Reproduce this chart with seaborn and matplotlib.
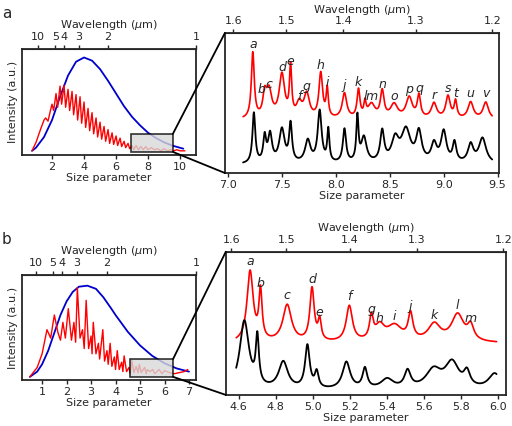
import numpy as np
import pandas as pd
import matplotlib
matplotlib.use("Agg")
import matplotlib.pyplot as plt
from matplotlib.patches import Rectangle, ConnectionPatch
import seaborn as sns

sns.set_style("ticks")
plt.rcParams['font.family'] = ['DejaVu Sans']

# ---------------- data ----------------
# panel a, overview
a_blue_x = [0.75,1,1.5,2,2.5,3,3.5,4,4.5,5,5.5,6,6.5,7,7.5,8,8.5,9,9.5,10.2]
a_blue_y = [0.04,0.07,0.17,0.33,0.55,0.75,0.88,0.92,0.89,0.81,0.70,0.58,0.46,0.36,0.28,0.21,0.16,0.12,0.09,0.06]
a_red_x = [0.75,1.0,1.3,1.5,1.6,1.75,1.9,2.0,2.1,2.25,2.35,2.5,2.6,2.75,2.85,3.0,3.1,3.25,3.35,3.5,3.6,3.75,3.85,4.0,
           4.1,4.25,4.35,4.5,4.6,4.75,4.85,5.0,5.1,5.25,5.35,5.5,5.6,5.75,5.85,6.0,6.1,6.25,6.35,6.5,6.6,6.75,6.85,7.0,
           7.1,7.25,7.4,7.55,7.7,7.85,8.0,8.2,8.4,8.6,8.8,9.0,9.2,9.4,9.6,9.8,10.0,10.3]
a_red_y = [0.04,0.12,0.25,0.33,0.35,0.32,0.42,0.48,0.42,0.58,0.45,0.65,0.48,0.66,0.45,0.62,0.42,0.60,0.38,0.57,0.33,0.55,0.30,0.50,
           0.26,0.44,0.23,0.40,0.20,0.35,0.17,0.31,0.15,0.27,0.13,0.24,0.11,0.21,0.10,0.18,0.09,0.16,0.08,0.13,0.07,0.11,0.06,0.09,
           0.05,0.09,0.05,0.08,0.05,0.08,0.05,0.07,0.05,0.06,0.04,0.06,0.04,0.05,0.04,0.05,0.04,0.04]
a_top_ticks = [1.1, 2.2, 2.75, 3.67, 5.5, 11.0]
a_top_labels = ["10", "5", "4", "3", "2", "1"]

# panel a, zoom: (label, position, peak value, width)
a_labels = list("abcdefghijklmnopqrstuv")
a_pk_x = [7.23,7.34,7.38,7.50,7.58,7.66,7.73,7.86,7.92,8.08,8.21,8.27,8.33,8.43,8.54,8.68,8.77,8.91,9.04,9.11,9.25,9.39]
a_pk_y = [0.85,0.53,0.57,0.69,0.73,0.48,0.55,0.70,0.58,0.56,0.58,0.48,0.48,0.57,0.48,0.53,0.54,0.49,0.54,0.50,0.50,0.50]
a_pk_w = [0.016,0.02,0.03,0.03,0.012,0.03,0.03,0.02,0.012,0.025,0.016,0.012,0.04,0.02,0.04,0.035,0.018,0.03,0.025,0.015,0.03,0.03]
a_blk_x = [7.24,7.34,7.39,7.50,7.58,7.74,7.85,7.93,8.08,8.20,8.26,8.43,8.55,8.65,8.77,8.91,9.00,9.10,9.25,9.36]
a_blk_y = [0.42,0.24,0.26,0.30,0.33,0.22,0.43,0.29,0.30,0.38,0.24,0.28,0.22,0.29,0.27,0.19,0.28,0.20,0.19,0.24]
a_blk_w = [0.016,0.016,0.022,0.03,0.016,0.03,0.022,0.012,0.018,0.012,0.03,0.022,0.04,0.05,0.03,0.03,0.03,0.02,0.03,0.04]
a_zoom_top_ticks = [7.05, 7.54, 8.07, 8.74, 9.45]
zoom_top_labels = ["1.6", "1.5", "1.4", "1.3", "1.2"]

# panel b, overview
b_blue_x = [0.5,0.8,1.0,1.25,1.5,1.75,2.0,2.25,2.5,2.85,3.2,3.5,3.8,4.0,4.5,5.0,5.5,6.0,6.5,7.0]
b_blue_y = [0.03,0.08,0.15,0.28,0.45,0.62,0.75,0.84,0.89,0.90,0.87,0.79,0.69,0.62,0.46,0.33,0.23,0.16,0.11,0.08]
b_red_x = [0.5,0.8,1.0,1.2,1.35,1.5,1.65,1.75,1.85,1.95,2.07,2.2,2.3,2.37,2.44,2.55,2.65,2.72,2.80,2.9,3.0,3.04,3.09,
           3.2,3.3,3.35,3.48,3.55,3.65,3.7,3.78,3.85,3.95,4.0,4.07,4.15,4.25,4.3,4.35,4.45,4.55,4.6,4.66,
           4.75,4.84,4.92,4.97,5.05,5.19,5.25,5.3,5.4,5.52,5.6,5.78,5.9,6.0,6.2,6.4,6.6,6.8,6.95]
b_red_y = [0.03,0.12,0.25,0.48,0.40,0.62,0.45,0.38,0.55,0.40,0.68,0.38,0.55,0.36,0.88,0.40,0.48,0.30,0.76,0.30,0.42,0.25,0.55,
           0.25,0.35,0.20,0.48,0.18,0.28,0.15,0.35,0.13,0.22,0.10,0.28,0.10,0.17,0.08,0.23,0.08,0.12,0.06,0.19,
           0.07,0.13,0.07,0.15,0.07,0.12,0.06,0.10,0.08,0.10,0.06,0.10,0.06,0.09,0.07,0.06,0.07,0.08,0.10]
b_top_ticks = [0.76, 1.45, 1.82, 2.43, 3.65, 7.29]
b_top_labels = ["10", "5", "4", "3", "2", "1"]

# panel b, zoom
b_labels = list("abcdefghijklm")
b_pk_x = [4.661,4.717,4.861,4.995,5.036,5.196,5.315,5.36,5.44,5.526,5.654,5.78,5.85]
b_pk_y = [0.855,0.70,0.62,0.73,0.50,0.61,0.52,0.46,0.47,0.54,0.48,0.55,0.46]
b_pk_w = [0.02,0.01,0.028,0.014,0.01,0.02,0.012,0.03,0.05,0.015,0.04,0.04,0.02]
b_blk_x = [4.63,4.70,4.84,4.97,5.02,5.18,5.28,5.40,5.51,5.65,5.75,5.83,5.98]
b_blk_y = [0.51,0.36,0.22,0.33,0.14,0.22,0.17,0.10,0.15,0.16,0.21,0.13,0.14]
b_blk_w = [0.03,0.01,0.03,0.015,0.012,0.025,0.015,0.04,0.02,0.05,0.045,0.02,0.04]
b_zoom_top_ticks = [4.559, 4.856, 5.198, 5.559, 6.027]

# ---------------- drawing ----------------
fig = plt.figure(figsize=(5.12, 4.26), dpi=100)
FS = 8

def spectrum(xs, px, py, pw, base):
    y = np.full_like(xs, base)
    for x0, h, w in zip(px, py, pw):
        y += (h - base) * w**2 / ((xs - x0)**2 + w**2)
    return y

def style(ax):
    for s in ax.spines.values():
        s.set_linewidth(1.3)
    ax.tick_params(labelsize=FS, width=1, length=3, direction="out", pad=2)

def overview(rect, bx, by, rx, ry, xlim, xticks, tt, tl, box):
    ax = fig.add_axes(rect)
    sns.lineplot(x=bx, y=by, ax=ax, color="#0000cc", lw=1.3, sort=False, estimator=None)
    sns.lineplot(x=rx, y=ry, ax=ax, color="red", lw=1.0, sort=False, estimator=None)
    ax.set_xlim(*xlim); ax.set_ylim(0, 1)
    ax.set_yticks([]); ax.set_xticks(xticks)
    ax.set_xlabel("Size parameter", fontsize=FS, labelpad=1)
    ax.set_ylabel("Intensity (a.u.)", fontsize=FS, labelpad=3)
    top = ax.secondary_xaxis("top")
    top.set_xticks(tt); top.set_xticklabels(tl)
    top.tick_params(labelsize=FS, width=1, length=3, pad=2)
    top.set_xlabel(r"Wavelength ($\mu$m)", fontsize=FS, labelpad=3)
    style(ax)
    ax.add_patch(Rectangle((box[0], 0.03), box[1]-box[0], 0.17, facecolor="#d9d9d9",
                           edgecolor="black", lw=1.2, alpha=0.8, zorder=3))
    return ax

def zoom(rect, xlim, xticks, xtl, rx, px, py, pw, rbase, bpx, bpy, bpw, bbase, labels, tt, lbl_off):
    ax = fig.add_axes(rect)
    xs = np.linspace(rx[0], rx[1], 1200)
    yr = spectrum(xs, px, py, pw, rbase)
    yb = spectrum(xs, bpx, bpy, bpw, bbase)
    sns.lineplot(x=xs, y=yr, ax=ax, color="red", lw=1.2, estimator=None)
    sns.lineplot(x=xs, y=yb, ax=ax, color="black", lw=1.3, estimator=None)
    for i, (lab, x0, y0) in enumerate(zip(labels, px, py)):
        dx = -0.012 * (xlim[1] - xlim[0]) if lab == "b" and len(labels) > 13 else 0
        ax.text(x0 + dx, y0 + lbl_off, lab, style="italic", fontsize=9, ha="center", va="bottom")
    ax.set_xlim(*xlim); ax.set_ylim(0, 1)
    ax.set_yticks([]); ax.set_xticks(xticks); ax.set_xticklabels(xtl)
    ax.set_xlabel("Size parameter", fontsize=FS, labelpad=1)
    top = ax.secondary_xaxis("top")
    top.set_xticks(tt); top.set_xticklabels(zoom_top_labels)
    top.tick_params(labelsize=FS, width=1, length=3, pad=2)
    top.set_xlabel(r"Wavelength ($\mu$m)", fontsize=FS, labelpad=2.5)
    style(ax)
    return ax

axA = overview([0.043, 0.636, 0.340, 0.249], a_blue_x, a_blue_y, a_red_x, a_red_y,
               (0.125, 11.0), [2, 4, 6, 8, 10], a_top_ticks, a_top_labels, (6.95, 9.55))
axAz = zoom([0.439, 0.594, 0.535, 0.328], (6.97, 9.51), [7.0, 7.5, 8.0, 8.5, 9.0, 9.5],
            ["7.0", "7.5", "8.0", "8.5", "9.0", "9.5"], (7.14, 9.45),
            a_pk_x, a_pk_y, a_pk_w, 0.38, a_blk_x, a_blk_y, a_blk_w, 0.06, a_labels, a_zoom_top_ticks, 0.02)
axB = overview([0.043, 0.108, 0.340, 0.246], b_blue_x, b_blue_y, b_red_x, b_red_y,
               (0.18, 7.29), [1, 2, 3, 4, 5, 6, 7], b_top_ticks, b_top_labels, (4.6, 6.35))
axBz = zoom([0.441, 0.073, 0.547, 0.336], (4.53, 6.04), [4.6, 4.8, 5.0, 5.2, 5.4, 5.6, 5.8, 6.0],
            ["4.6", "4.8", "5.0", "5.2", "5.4", "5.6", "5.8", "6.0"], (4.586, 5.99),
            b_pk_x, b_pk_y, b_pk_w, 0.36, b_blk_x, b_blk_y, b_blk_w, 0.03, b_labels, b_zoom_top_ticks, 0.03)

for src, dst, bx in [(axA, axAz, 9.55), (axB, axBz, 6.35)]:
    for yb, yd in [(0.2, 1), (0.03, 0)]:
        cp = ConnectionPatch(xyA=(bx, yb), coordsA=src.transData, xyB=(0, yd), coordsB=dst.transAxes,
                             color="black", lw=1.3)
        fig.add_artist(cp)

fig.text(0.004, 0.985, "a", fontsize=11, va="top")
fig.text(0.004, 0.455, "b", fontsize=11, va="top")

fig.savefig("out.png", dpi=100)
